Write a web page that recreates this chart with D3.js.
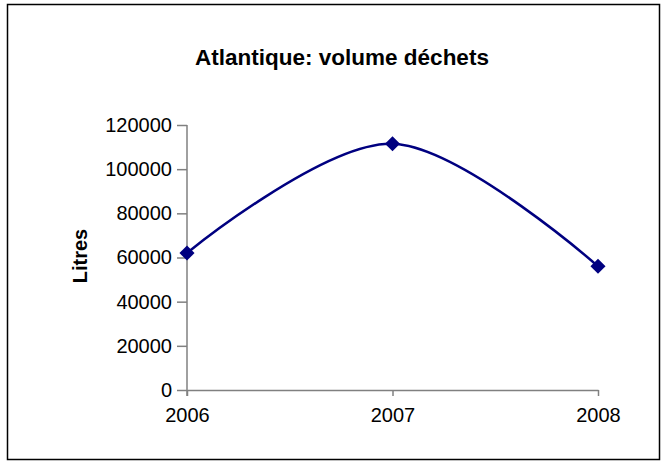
<!DOCTYPE html>
<html>
<head>
<meta charset="utf-8">
<script src="https://cdn.jsdelivr.net/npm/d3@7"></script>
<style>
  body { margin: 0; background: #fff; }
  text { font-family: Arial, "Liberation Sans", sans-serif; fill: #000; }
</style>
</head>
<body>
<div id="chart"></div>
<script>
// chart data
const years = ["2006", "2007", "2008"];
const volumes = [62000, 111500, 56000];
const yTicks = [0, 20000, 40000, 60000, 80000, 100000, 120000];
const chartTitle = "Atlantique: volume déchets";
const yTitle = "Litres";

const width = 661, height = 461;
const margin = { top: 125, right: 63, bottom: 71, left: 187 };
const innerW = width - margin.left - margin.right,
      innerH = height - margin.top - margin.bottom;

const svg = d3.select("#chart")
  .append("svg")
    .attr("width", width)
    .attr("height", height);

// outer frame
svg.append("rect")
  .attr("x", 7.5).attr("y", 4.5)
  .attr("width", 652).attr("height", 455)
  .attr("fill", "none")
  .attr("stroke", "#000")
  .attr("stroke-width", 1.5);

svg.append("text")
  .attr("x", 342)
  .attr("y", 65)
  .attr("text-anchor", "middle")
  .style("font-weight", "bold")
  .style("font-size", "22.5px")
  .text(chartTitle);

const g = svg.append("g")
  .attr("transform", `translate(${margin.left},${margin.top})`);

const x = d3.scalePoint()
  .domain(years)
  .range([0, innerW]);

const y = d3.scaleLinear()
  .domain([0, 120000])
  .range([innerH, 0]);

// y axis
const yAxis = g.append("g")
  .call(d3.axisLeft(y).tickValues(yTicks).tickSize(10).tickPadding(5).tickFormat(d3.format("d")));
yAxis.selectAll("text").style("font-size", "20px");

// x axis
const xAxis = g.append("g")
  .attr("transform", `translate(0,${innerH})`)
  .call(d3.axisBottom(x).tickSize(6).tickPadding(12).tickSizeOuter(0));
xAxis.selectAll("text").style("font-size", "20px");

g.selectAll(".domain, .tick line")
  .attr("stroke", "#808080")
  .attr("stroke-width", 1.5);
// y axis domain without outer ticks
yAxis.select(".domain").attr("d", `M0,${innerH + 6}V0`);

// y axis title
svg.append("text")
  .attr("transform", "translate(87,256) rotate(-90)")
  .attr("text-anchor", "middle")
  .style("font-weight", "bold")
  .style("font-size", "20px")
  .text(yTitle);

// smoothed line
const line = d3.line()
  .x((d, i) => x(years[i]))
  .y(d => y(d))
  .curve(d3.curveCatmullRom.alpha(0));

g.append("path")
  .datum(volumes)
  .attr("d", line)
  .attr("fill", "none")
  .attr("stroke", "#000080")
  .attr("stroke-width", 2.5);

// diamond markers
g.selectAll(".marker")
  .data(volumes)
  .enter().append("path")
  .attr("class", "marker")
  .attr("d", d3.symbol().type(d3.symbolDiamond2).size(145))
  .attr("transform", (d, i) => `translate(${x(years[i])},${y(d)})`)
  .attr("fill", "#000080");
</script>
</body>
</html>
